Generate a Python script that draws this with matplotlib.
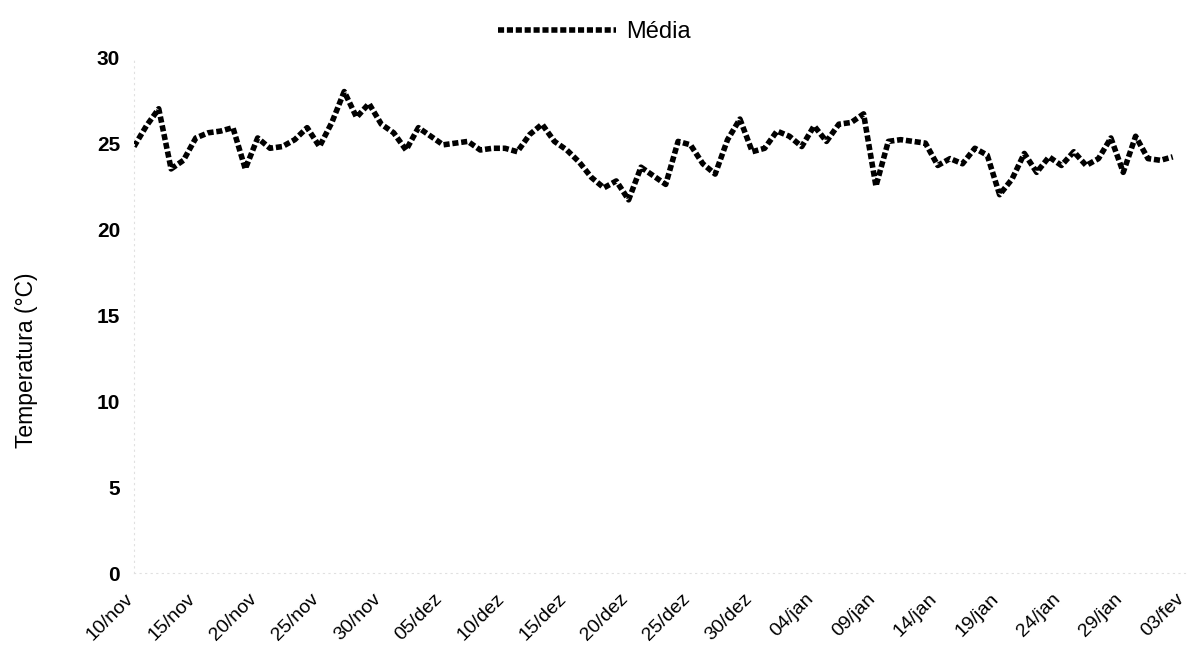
import matplotlib.pyplot as plt

# Daily mean temperature, 10/nov -> 02/fev
media = [24.8, 26.0, 27.0, 23.5, 24.0, 25.3, 25.6, 25.7, 25.9, 23.5,
         25.3, 24.7, 24.8, 25.2, 25.9, 24.8, 26.2, 28.0, 26.5, 27.3,
         26.1, 25.6, 24.6, 25.9, 25.4, 24.9, 25.0, 25.1, 24.6, 24.7,
         24.7, 24.5, 25.5, 26.1, 25.1, 24.6, 23.9, 23.0, 22.4, 22.8,
         21.7, 23.6, 23.1, 22.6, 25.1, 24.9, 23.8, 23.2, 25.2, 26.4,
         24.5, 24.7, 25.7, 25.4, 24.8, 26.0, 25.1, 26.1, 26.2, 26.7,
         22.5, 25.1, 25.2, 25.1, 25.0, 23.7, 24.1, 23.8, 24.7, 24.3,
         22.0, 22.9, 24.4, 23.3, 24.2, 23.7, 24.5, 23.7, 24.1, 25.3,
         23.3, 25.4, 24.1, 24.0, 24.2]

tick_labels = ['10/nov', '15/nov', '20/nov', '25/nov', '30/nov', '05/dez',
               '10/dez', '15/dez', '20/dez', '25/dez', '30/dez', '04/jan',
               '09/jan', '14/jan', '19/jan', '24/jan', '29/jan', '03/fev']
y_ticks = [0, 5, 10, 15, 20, 25, 30]


def plot_media():
    plt.rcParams['font.family'] = ['Liberation Sans', 'DejaVu Sans']

    fig = plt.figure(figsize=(11.89, 6.53), dpi=100)
    ax = fig.add_axes([0.1127, 0.1225, 0.884, 0.79])

    x = list(range(len(media)))
    ax.plot(x, media, color='black', linewidth=4.0,
            linestyle=(0, (1.1, 0.5)), label='Média')

    ax.set_xlim(0, 85)
    ax.set_ylim(0, 30)
    ax.set_xticks(range(0, 86, 5))
    ax.set_xticklabels(tick_labels, rotation=45, ha='right', va='baseline',
                       rotation_mode='anchor', fontsize=14)
    ax.set_yticks(y_ticks)
    ax.set_yticklabels([str(v) for v in y_ticks], fontsize=15,
                       fontweight='bold')
    ax.tick_params(axis='y', length=0, pad=10)
    ax.tick_params(axis='x', length=0, pad=19)

    ax.set_ylabel('Temperatura (°C)', fontsize=16.5)
    ax.yaxis.set_label_coords(-0.091, 0.413)

    for side in ['top', 'right']:
        ax.spines[side].set_visible(False)
    for side in ['left', 'bottom']:
        ax.spines[side].set_color('#e0e0e0')
        ax.spines[side].set_linestyle((0, (1, 4)))
        ax.spines[side].set_linewidth(0.8)

    fig.legend(loc='upper center', bbox_to_anchor=(0.5, 1.0), frameon=False,
               fontsize=17, handlelength=5.0, handletextpad=0.4)

    fig.savefig('out.png', dpi=100)


if __name__ == "__main__":
    plot_media()
